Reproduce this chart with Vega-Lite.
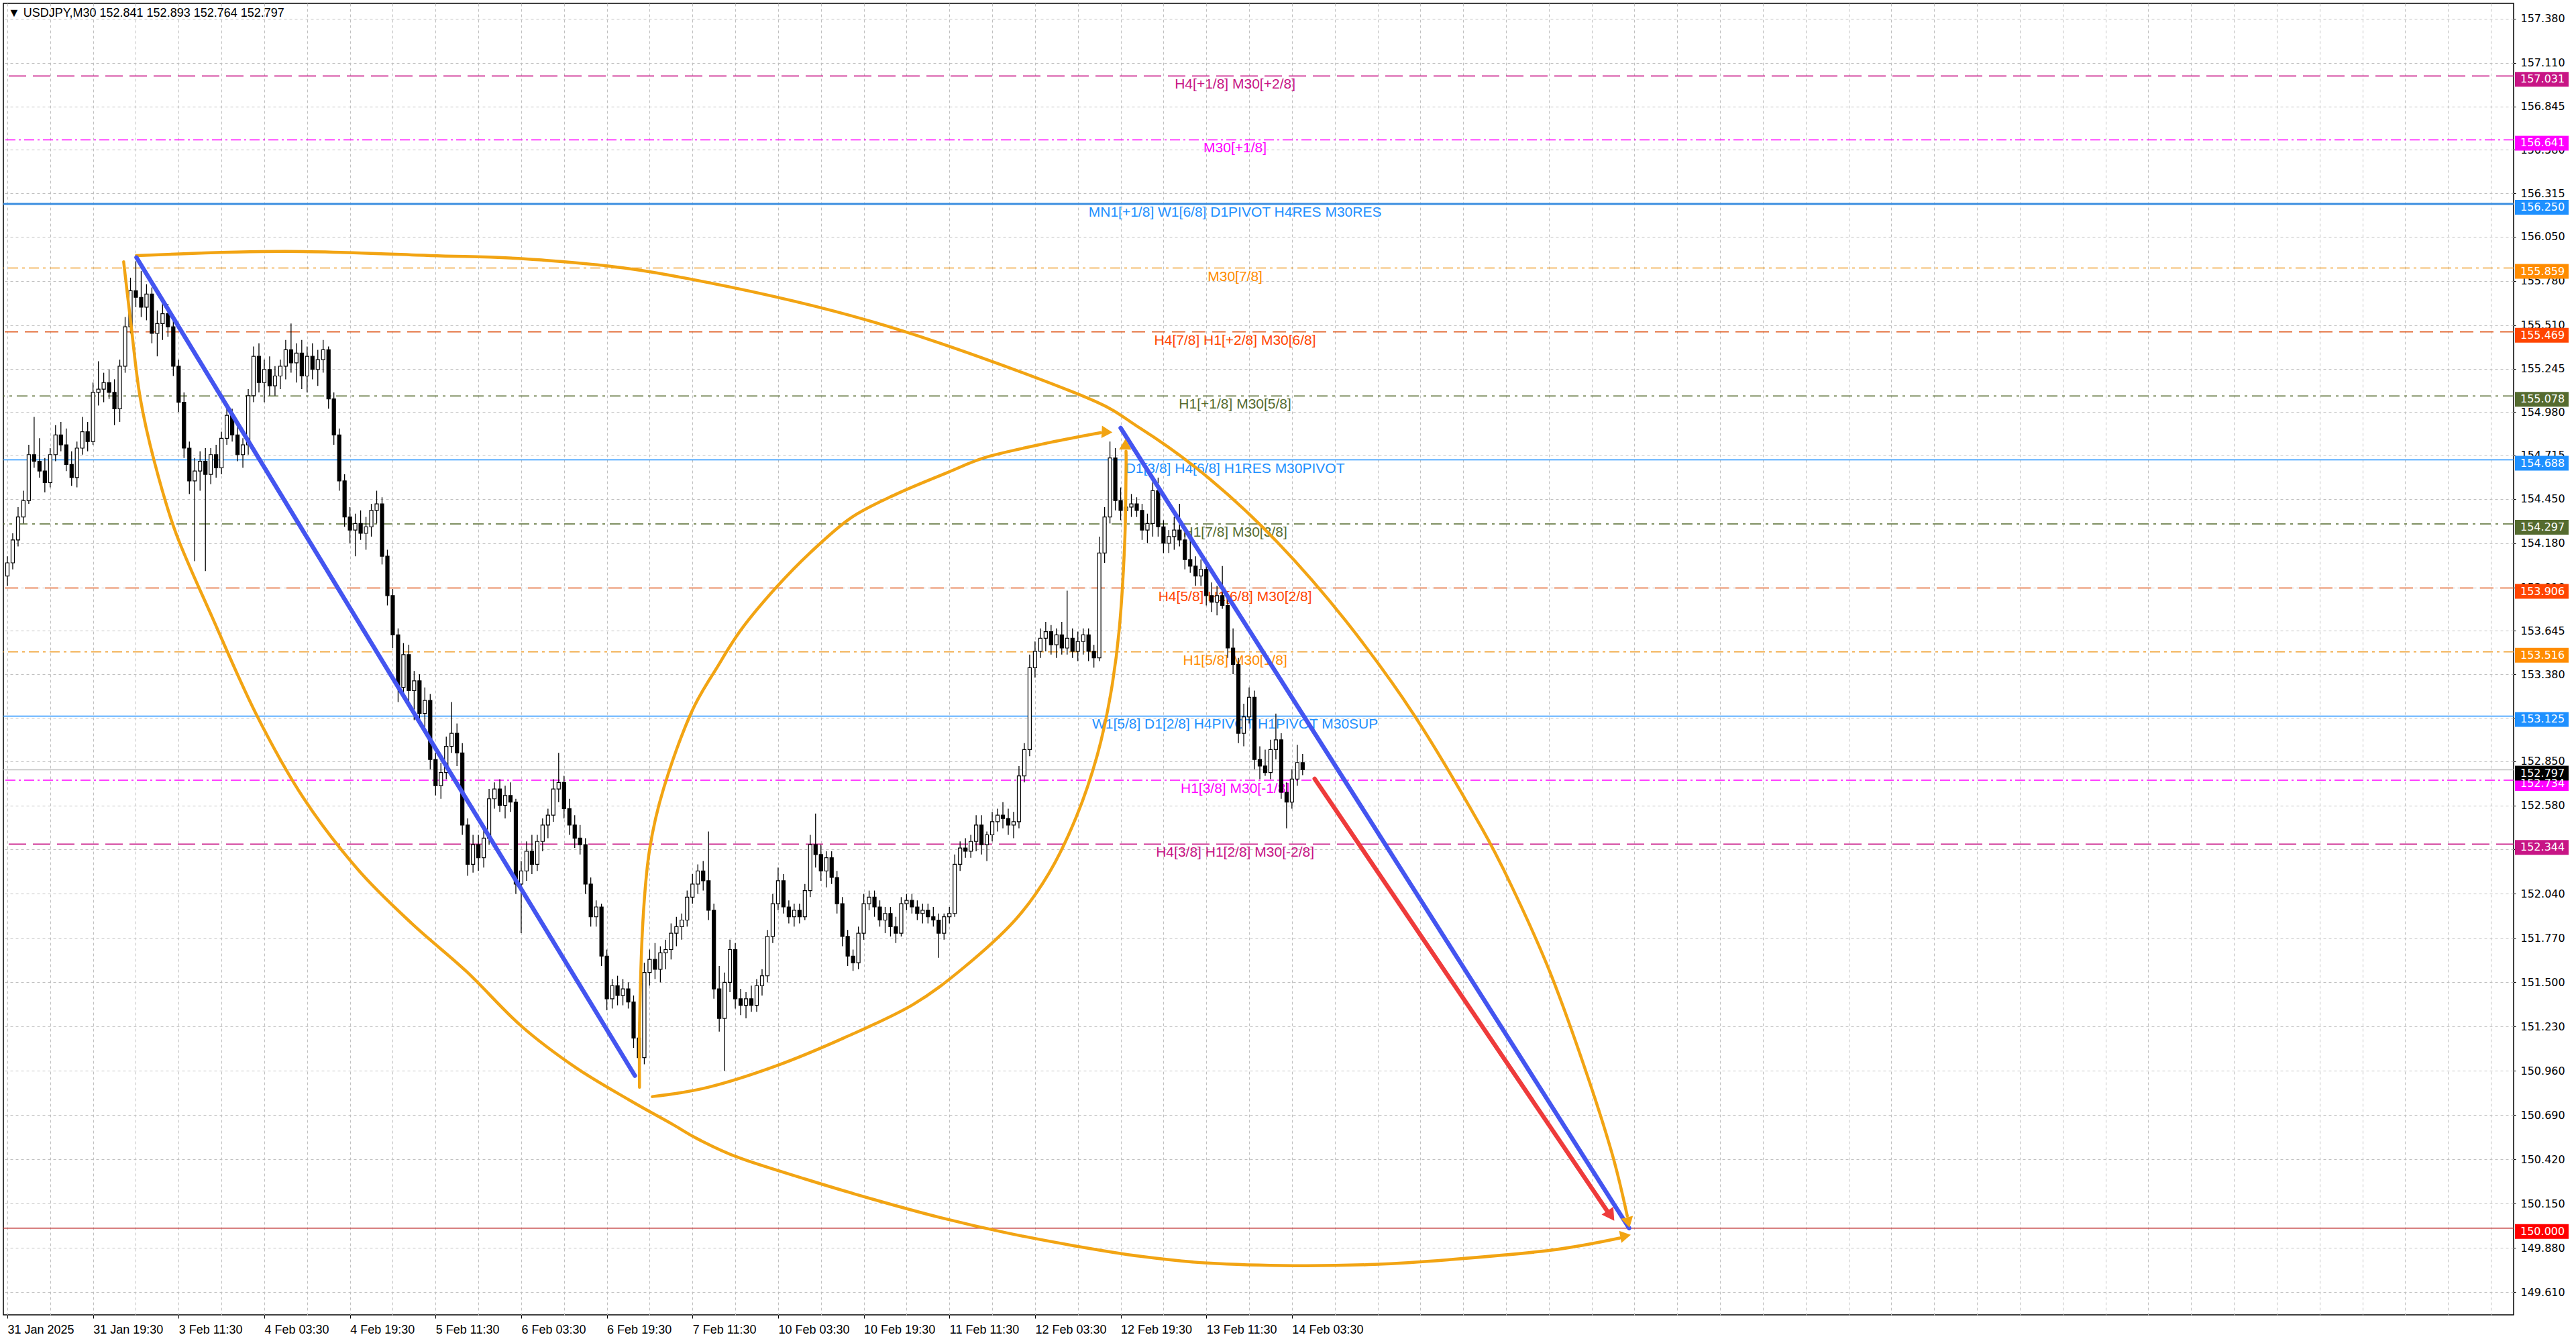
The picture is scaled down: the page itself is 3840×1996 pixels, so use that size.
{
  "$schema": "https://vega.github.io/schema/vega-lite/v6.json",
  "width": 3742,
  "height": 1955,
  "autosize": "none",
  "padding": {"left": 5, "top": 5, "right": 93, "bottom": 36},
  "background": "#ffffff",
  "title": {
    "text": "▼ USDJPY,M30  152.841 152.893 152.764 152.797",
    "anchor": "start",
    "frame": "group",
    "offset": -24,
    "dx": 7,
    "font": "Liberation Sans",
    "fontSize": 18,
    "fontWeight": "normal",
    "color": "#000000"
  },
  "config": {
    "view": {"stroke": "#000000", "strokeWidth": 1.5},
    "axisX": {
      "domain": false,
      "grid": true,
      "gridColor": "#c0c0c0",
      "gridDash": [4, 4],
      "gridWidth": 1,
      "tickSize": 5,
      "tickColor": "#000000",
      "labelFont": "Liberation Sans",
      "labelFontSize": 18,
      "labelColor": "#000000",
      "labelAlign": "left",
      "labelBaseline": "top",
      "labelPadding": 8,
      "labelOverlap": false,
      "labelFlush": false,
      "labelBound": false
    },
    "axisY": {
      "domain": false,
      "grid": true,
      "gridColor": "#c0c0c0",
      "gridDash": [4, 4],
      "gridWidth": 1,
      "tickSize": 3,
      "tickColor": "#000000",
      "labelFont": "DejaVu Sans",
      "labelFontSize": 16,
      "labelColor": "#000000",
      "labelPadding": 7,
      "labelAlign": "left",
      "labelBaseline": "middle",
      "labelOverlap": false,
      "labelFlush": false,
      "labelBound": false
    }
  },
  "datasets": {
    "levels": [
      {"p": 157.031, "kind": "pm2", "txt": "H4[+1/8] M30[+2/8]"},
      {"p": 156.641, "kind": "pm1", "txt": "M30[+1/8]"},
      {"p": 156.25, "kind": "mn", "txt": "MN1[+1/8] W1[6/8] D1PIVOT H4RES M30RES"},
      {"p": 155.859, "kind": "o71", "txt": "M30[7/8]"},
      {"p": 155.469, "kind": "o62", "txt": "H4[7/8] H1[+2/8] M30[6/8]"},
      {"p": 155.078, "kind": "o53", "txt": "H1[+1/8] M30[5/8]"},
      {"p": 154.688, "kind": "piv", "txt": "D1[3/8] H4[6/8] H1RES M30PIVOT"},
      {"p": 154.297, "kind": "o53", "txt": "H1[7/8] M30[3/8]"},
      {"p": 153.906, "kind": "o62", "txt": "H4[5/8] H1[6/8] M30[2/8]"},
      {"p": 153.516, "kind": "o71", "txt": "H1[5/8] M30[1/8]"},
      {"p": 153.125, "kind": "piv", "txt": "W1[5/8] D1[2/8] H4PIVOT H1PIVOT M30SUP"},
      {"p": 152.734, "kind": "pm1", "txt": "H1[3/8] M30[-1/8]"},
      {"p": 152.344, "kind": "pm2", "txt": "H4[3/8] H1[2/8] M30[-2/8]"},
      {"p": 150.0, "kind": "target", "txt": ""},
      {"p": 152.797, "kind": "price", "txt": ""}
    ],
    "curves": [
      {"id": "A", "i": 48.2, "p": 155.935}, {"id": "A", "i": 103.75, "p": 155.96}, {"id": "A", "i": 158, "p": 155.935},
      {"id": "A", "i": 198.6, "p": 155.909}, {"id": "A", "i": 248.5, "p": 155.812}, {"id": "A", "i": 323.5, "p": 155.53},
      {"id": "A", "i": 398.5, "p": 155.1}, {"id": "A", "i": 423.5, "p": 154.879}, {"id": "A", "i": 449, "p": 154.576},
      {"id": "A", "i": 474.5, "p": 154.187}, {"id": "A", "i": 500, "p": 153.708}, {"id": "A", "i": 525.5, "p": 153.135},
      {"id": "A", "i": 551, "p": 152.439}, {"id": "A", "i": 563.75, "p": 152.03}, {"id": "A", "i": 576.5, "p": 151.559},
      {"id": "A", "i": 589.25, "p": 150.986}, {"id": "A", "i": 599.5, "p": 150.462}, {"id": "A", "i": 605.3, "p": 150.075},
      {"id": "B", "i": 43.45, "p": 155.897}, {"id": "B", "i": 46.2, "p": 155.513}, {"id": "B", "i": 49.55, "p": 155.075},
      {"id": "B", "i": 54.98, "p": 154.674}, {"id": "B", "i": 63.1, "p": 154.236}, {"id": "B", "i": 76.65, "p": 153.724},
      {"id": "B", "i": 92.9, "p": 153.139}, {"id": "B", "i": 110.55, "p": 152.627}, {"id": "B", "i": 130.9, "p": 152.19},
      {"id": "B", "i": 151.2, "p": 151.858}, {"id": "B", "i": 171.5, "p": 151.567}, {"id": "B", "i": 191.85, "p": 151.236},
      {"id": "B", "i": 212.2, "p": 150.982}, {"id": "B", "i": 232.5, "p": 150.781}, {"id": "B", "i": 248.5, "p": 150.634},
      {"id": "B", "i": 258, "p": 150.544}, {"id": "B", "i": 273.5, "p": 150.429}, {"id": "B", "i": 298.5, "p": 150.298},
      {"id": "B", "i": 323.5, "p": 150.176}, {"id": "B", "i": 348.5, "p": 150.065}, {"id": "B", "i": 373.5, "p": 149.971},
      {"id": "B", "i": 398.5, "p": 149.893}, {"id": "B", "i": 423.5, "p": 149.828}, {"id": "B", "i": 448.5, "p": 149.787},
      {"id": "B", "i": 481, "p": 149.771}, {"id": "B", "i": 511, "p": 149.779}, {"id": "B", "i": 538.25, "p": 149.807},
      {"id": "B", "i": 576.5, "p": 149.865}, {"id": "B", "i": 602.5, "p": 149.94},
      {"id": "C", "i": 236.2, "p": 150.86}, {"id": "C", "i": 236.3, "p": 151.305}, {"id": "C", "i": 237.5, "p": 151.879},
      {"id": "C", "i": 240, "p": 152.313}, {"id": "C", "i": 245.25, "p": 152.685}, {"id": "C", "i": 255.5, "p": 153.144},
      {"id": "C", "i": 265.5, "p": 153.43}, {"id": "C", "i": 274.5, "p": 153.659}, {"id": "C", "i": 287.25, "p": 153.909},
      {"id": "C", "i": 300, "p": 154.122}, {"id": "C", "i": 315.25, "p": 154.335}, {"id": "C", "i": 332, "p": 154.478},
      {"id": "C", "i": 351, "p": 154.609}, {"id": "C", "i": 366.25, "p": 154.707}, {"id": "C", "i": 389.25, "p": 154.793},
      {"id": "C", "i": 408.5, "p": 154.854},
      {"id": "D", "i": 241, "p": 150.803}, {"id": "D", "i": 261.75, "p": 150.859}, {"id": "D", "i": 287.25, "p": 150.99},
      {"id": "D", "i": 312.75, "p": 151.162}, {"id": "D", "i": 338.25, "p": 151.363}, {"id": "D", "i": 357.5, "p": 151.592},
      {"id": "D", "i": 376.5, "p": 151.879}, {"id": "D", "i": 389.25, "p": 152.167}, {"id": "D", "i": 399.5, "p": 152.513},
      {"id": "D", "i": 407.25, "p": 152.886}, {"id": "D", "i": 412.25, "p": 153.258}, {"id": "D", "i": 415.5, "p": 153.659},
      {"id": "D", "i": 417.5, "p": 154.179}, {"id": "D", "i": 418, "p": 154.609}, {"id": "D", "i": 418, "p": 154.74}
    ],
    "trend": [
      {"id": "blue1", "i": 48.25, "p": 155.923}, {"id": "blue1", "i": 234.5, "p": 150.93},
      {"id": "blue2", "i": 416, "p": 154.883}, {"id": "blue2", "i": 606, "p": 150.0},
      {"id": "red", "i": 488.5, "p": 152.742}, {"id": "red", "i": 598, "p": 150.1}
    ],
    "heads": [
      {"id": "A", "i": 605.5, "p": 150.045},
      {"id": "B", "i": 604, "p": 149.951},
      {"id": "C", "i": 410.25, "p": 154.858},
      {"id": "D", "i": 417.75, "p": 154.773},
      {"id": "red", "i": 598.75, "p": 150.086}
    ],
    "bars": [
      {"i":0,"o":153.98,"h":154.1,"l":153.92,"c":154.06},
      {"i":2,"o":154.06,"h":154.24,"l":154.02,"c":154.2},
      {"i":4,"o":154.2,"h":154.4,"l":154.16,"c":154.34},
      {"i":6,"o":154.34,"h":154.5,"l":154.3,"c":154.44},
      {"i":8,"o":154.44,"h":154.78,"l":154.42,"c":154.72},
      {"i":10,"o":154.72,"h":154.95,"l":154.64,"c":154.68},
      {"i":12,"o":154.68,"h":154.82,"l":154.58,"c":154.62},
      {"i":14,"o":154.62,"h":154.7,"l":154.49,"c":154.55},
      {"i":16,"o":154.55,"h":154.76,"l":154.52,"c":154.72},
      {"i":18,"o":154.72,"h":154.9,"l":154.68,"c":154.84},
      {"i":20,"o":154.84,"h":154.92,"l":154.74,"c":154.78},
      {"i":22,"o":154.78,"h":154.88,"l":154.62,"c":154.66},
      {"i":24,"o":154.66,"h":154.74,"l":154.53,"c":154.58},
      {"i":26,"o":154.58,"h":154.8,"l":154.52,"c":154.76},
      {"i":28,"o":154.76,"h":154.95,"l":154.72,"c":154.86},
      {"i":30,"o":154.86,"h":154.92,"l":154.74,"c":154.8},
      {"i":32,"o":154.8,"h":155.16,"l":154.78,"c":155.1},
      {"i":34,"o":155.1,"h":155.29,"l":155.02,"c":155.12},
      {"i":36,"o":155.12,"h":155.22,"l":155.04,"c":155.16},
      {"i":38,"o":155.16,"h":155.24,"l":155.06,"c":155.1},
      {"i":40,"o":155.1,"h":155.18,"l":154.9,"c":155.0},
      {"i":42,"o":155.0,"h":155.3,"l":154.92,"c":155.26},
      {"i":44,"o":155.26,"h":155.56,"l":155.22,"c":155.5},
      {"i":46,"o":155.5,"h":155.8,"l":155.46,"c":155.72},
      {"i":48,"o":155.72,"h":155.9,"l":155.62,"c":155.68},
      {"i":50,"o":155.68,"h":155.84,"l":155.56,"c":155.62},
      {"i":52,"o":155.62,"h":155.76,"l":155.54,"c":155.7},
      {"i":54,"o":155.7,"h":155.74,"l":155.4,"c":155.46},
      {"i":56,"o":155.46,"h":155.6,"l":155.32,"c":155.52},
      {"i":58,"o":155.52,"h":155.66,"l":155.42,"c":155.58},
      {"i":60,"o":155.58,"h":155.64,"l":155.44,"c":155.5},
      {"i":62,"o":155.5,"h":155.56,"l":155.2,"c":155.26},
      {"i":64,"o":155.26,"h":155.3,"l":154.98,"c":155.04},
      {"i":66,"o":155.04,"h":155.1,"l":154.7,"c":154.76},
      {"i":68,"o":154.76,"h":154.8,"l":154.48,"c":154.56},
      {"i":70,"o":154.56,"h":154.7,"l":154.07,"c":154.62},
      {"i":72,"o":154.62,"h":154.74,"l":154.5,"c":154.68},
      {"i":74,"o":154.68,"h":154.76,"l":154.01,"c":154.6},
      {"i":76,"o":154.6,"h":154.76,"l":154.54,"c":154.72},
      {"i":78,"o":154.72,"h":154.78,"l":154.58,"c":154.64},
      {"i":80,"o":154.64,"h":154.86,"l":154.6,"c":154.82},
      {"i":82,"o":154.82,"h":155.02,"l":154.78,"c":154.96},
      {"i":84,"o":154.96,"h":155.0,"l":154.8,"c":154.84},
      {"i":86,"o":154.84,"h":154.9,"l":154.68,"c":154.72},
      {"i":88,"o":154.72,"h":154.82,"l":154.64,"c":154.78},
      {"i":90,"o":154.78,"h":155.12,"l":154.72,"c":155.08},
      {"i":92,"o":155.08,"h":155.38,"l":155.04,"c":155.32},
      {"i":94,"o":155.32,"h":155.4,"l":155.1,"c":155.16},
      {"i":96,"o":155.16,"h":155.3,"l":155.04,"c":155.24},
      {"i":98,"o":155.24,"h":155.32,"l":155.08,"c":155.14},
      {"i":100,"o":155.14,"h":155.26,"l":155.08,"c":155.2},
      {"i":102,"o":155.2,"h":155.3,"l":155.12,"c":155.26},
      {"i":104,"o":155.26,"h":155.42,"l":155.18,"c":155.36},
      {"i":106,"o":155.36,"h":155.52,"l":155.22,"c":155.28},
      {"i":108,"o":155.28,"h":155.4,"l":155.16,"c":155.34},
      {"i":110,"o":155.34,"h":155.42,"l":155.12,"c":155.2},
      {"i":112,"o":155.2,"h":155.38,"l":155.1,"c":155.32},
      {"i":114,"o":155.32,"h":155.4,"l":155.18,"c":155.24},
      {"i":116,"o":155.24,"h":155.36,"l":155.14,"c":155.3},
      {"i":118,"o":155.3,"h":155.42,"l":155.22,"c":155.36},
      {"i":120,"o":155.36,"h":155.38,"l":155.0,"c":155.06},
      {"i":122,"o":155.06,"h":155.1,"l":154.78,"c":154.84},
      {"i":124,"o":154.84,"h":154.88,"l":154.5,"c":154.56},
      {"i":126,"o":154.56,"h":154.6,"l":154.28,"c":154.34},
      {"i":128,"o":154.34,"h":154.4,"l":154.18,"c":154.26},
      {"i":130,"o":154.26,"h":154.36,"l":154.1,"c":154.3},
      {"i":132,"o":154.3,"h":154.38,"l":154.2,"c":154.24},
      {"i":134,"o":154.24,"h":154.34,"l":154.14,"c":154.28},
      {"i":136,"o":154.28,"h":154.42,"l":154.22,"c":154.38},
      {"i":138,"o":154.38,"h":154.5,"l":154.3,"c":154.42},
      {"i":140,"o":154.42,"h":154.46,"l":154.05,"c":154.1},
      {"i":142,"o":154.1,"h":154.14,"l":153.8,"c":153.86},
      {"i":144,"o":153.86,"h":153.9,"l":153.54,"c":153.62},
      {"i":146,"o":153.62,"h":153.66,"l":153.21,"c":153.3},
      {"i":148,"o":153.3,"h":153.57,"l":153.26,"c":153.5},
      {"i":150,"o":153.5,"h":153.56,"l":153.2,"c":153.28},
      {"i":152,"o":153.28,"h":153.4,"l":153.1,"c":153.34},
      {"i":154,"o":153.34,"h":153.38,"l":153.08,"c":153.14},
      {"i":156,"o":153.14,"h":153.3,"l":153.06,"c":153.22},
      {"i":158,"o":153.22,"h":153.26,"l":152.8,"c":152.86},
      {"i":160,"o":152.86,"h":152.9,"l":152.64,"c":152.7},
      {"i":162,"o":152.7,"h":152.84,"l":152.62,"c":152.78},
      {"i":164,"o":152.78,"h":153.0,"l":152.74,"c":152.94},
      {"i":166,"o":152.94,"h":153.21,"l":152.9,"c":153.02},
      {"i":168,"o":153.02,"h":153.08,"l":152.82,"c":152.9},
      {"i":170,"o":152.9,"h":152.96,"l":152.4,"c":152.46},
      {"i":172,"o":152.46,"h":152.5,"l":152.15,"c":152.22},
      {"i":174,"o":152.22,"h":152.4,"l":152.17,"c":152.34},
      {"i":176,"o":152.34,"h":152.4,"l":152.18,"c":152.26},
      {"i":178,"o":152.26,"h":152.44,"l":152.2,"c":152.38},
      {"i":180,"o":152.38,"h":152.68,"l":152.34,"c":152.62},
      {"i":182,"o":152.62,"h":152.72,"l":152.56,"c":152.68},
      {"i":184,"o":152.68,"h":152.74,"l":152.54,"c":152.58},
      {"i":186,"o":152.58,"h":152.7,"l":152.5,"c":152.64},
      {"i":188,"o":152.64,"h":152.72,"l":152.54,"c":152.6},
      {"i":190,"o":152.6,"h":152.62,"l":152.04,"c":152.1},
      {"i":192,"o":152.1,"h":152.24,"l":151.8,"c":152.18},
      {"i":194,"o":152.18,"h":152.36,"l":152.12,"c":152.3},
      {"i":196,"o":152.3,"h":152.4,"l":152.16,"c":152.22},
      {"i":198,"o":152.22,"h":152.4,"l":152.18,"c":152.36},
      {"i":200,"o":152.36,"h":152.5,"l":152.3,"c":152.46},
      {"i":202,"o":152.46,"h":152.56,"l":152.38,"c":152.52},
      {"i":204,"o":152.52,"h":152.74,"l":152.48,"c":152.68},
      {"i":206,"o":152.68,"h":152.9,"l":152.6,"c":152.72},
      {"i":208,"o":152.72,"h":152.76,"l":152.5,"c":152.56},
      {"i":210,"o":152.56,"h":152.62,"l":152.4,"c":152.46},
      {"i":212,"o":152.46,"h":152.52,"l":152.32,"c":152.38},
      {"i":214,"o":152.38,"h":152.46,"l":152.28,"c":152.34},
      {"i":216,"o":152.34,"h":152.38,"l":152.04,"c":152.1},
      {"i":218,"o":152.1,"h":152.14,"l":151.84,"c":151.9},
      {"i":220,"o":151.9,"h":152.0,"l":151.84,"c":151.96},
      {"i":222,"o":151.96,"h":151.98,"l":151.6,"c":151.66},
      {"i":224,"o":151.66,"h":151.7,"l":151.33,"c":151.4},
      {"i":226,"o":151.4,"h":151.52,"l":151.34,"c":151.48},
      {"i":228,"o":151.48,"h":151.54,"l":151.36,"c":151.42},
      {"i":230,"o":151.42,"h":151.52,"l":151.36,"c":151.46},
      {"i":232,"o":151.46,"h":151.5,"l":151.34,"c":151.38},
      {"i":234,"o":151.38,"h":151.42,"l":151.1,"c":151.16},
      {"i":236,"o":151.16,"h":151.26,"l":150.93,"c":151.04},
      {"i":238,"o":151.04,"h":151.62,"l":151.0,"c":151.56},
      {"i":240,"o":151.56,"h":151.7,"l":151.48,"c":151.64},
      {"i":242,"o":151.64,"h":151.74,"l":151.52,"c":151.58},
      {"i":244,"o":151.58,"h":151.72,"l":151.5,"c":151.68},
      {"i":246,"o":151.68,"h":151.76,"l":151.58,"c":151.7},
      {"i":248,"o":151.7,"h":151.86,"l":151.64,"c":151.8},
      {"i":250,"o":151.8,"h":151.9,"l":151.72,"c":151.84},
      {"i":252,"o":151.84,"h":151.92,"l":151.76,"c":151.88},
      {"i":254,"o":151.88,"h":152.06,"l":151.84,"c":152.02},
      {"i":256,"o":152.02,"h":152.16,"l":151.98,"c":152.1},
      {"i":258,"o":152.1,"h":152.22,"l":152.04,"c":152.18},
      {"i":260,"o":152.18,"h":152.24,"l":152.06,"c":152.12},
      {"i":262,"o":152.12,"h":152.42,"l":151.88,"c":151.94},
      {"i":264,"o":151.94,"h":151.98,"l":151.4,"c":151.46},
      {"i":266,"o":151.46,"h":151.6,"l":151.2,"c":151.28},
      {"i":268,"o":151.28,"h":151.56,"l":150.96,"c":151.5},
      {"i":270,"o":151.5,"h":151.76,"l":151.44,"c":151.7},
      {"i":272,"o":151.7,"h":151.74,"l":151.34,"c":151.4},
      {"i":274,"o":151.4,"h":151.46,"l":151.3,"c":151.36},
      {"i":276,"o":151.36,"h":151.44,"l":151.28,"c":151.4},
      {"i":278,"o":151.4,"h":151.48,"l":151.32,"c":151.36},
      {"i":280,"o":151.36,"h":151.52,"l":151.32,"c":151.48},
      {"i":282,"o":151.48,"h":151.58,"l":151.42,"c":151.54},
      {"i":284,"o":151.54,"h":151.82,"l":151.5,"c":151.78},
      {"i":286,"o":151.78,"h":152.04,"l":151.74,"c":151.98},
      {"i":288,"o":151.98,"h":152.2,"l":151.94,"c":152.12},
      {"i":290,"o":152.12,"h":152.16,"l":151.92,"c":151.96},
      {"i":292,"o":151.96,"h":152.0,"l":151.86,"c":151.9},
      {"i":294,"o":151.9,"h":151.98,"l":151.84,"c":151.94},
      {"i":296,"o":151.94,"h":151.98,"l":151.86,"c":151.9},
      {"i":298,"o":151.9,"h":152.1,"l":151.88,"c":152.06},
      {"i":300,"o":152.06,"h":152.4,"l":152.02,"c":152.34},
      {"i":302,"o":152.34,"h":152.53,"l":152.2,"c":152.28},
      {"i":304,"o":152.28,"h":152.34,"l":152.12,"c":152.18},
      {"i":306,"o":152.18,"h":152.3,"l":152.08,"c":152.26},
      {"i":308,"o":152.26,"h":152.3,"l":152.1,"c":152.14},
      {"i":310,"o":152.14,"h":152.18,"l":151.92,"c":151.98},
      {"i":312,"o":151.98,"h":152.02,"l":151.72,"c":151.78},
      {"i":314,"o":151.78,"h":151.82,"l":151.6,"c":151.66},
      {"i":316,"o":151.66,"h":151.7,"l":151.57,"c":151.62},
      {"i":318,"o":151.62,"h":151.84,"l":151.58,"c":151.8},
      {"i":320,"o":151.8,"h":152.04,"l":151.76,"c":151.98},
      {"i":322,"o":151.98,"h":152.06,"l":151.94,"c":152.02},
      {"i":324,"o":152.02,"h":152.06,"l":151.9,"c":151.96},
      {"i":326,"o":151.96,"h":152.0,"l":151.84,"c":151.88},
      {"i":328,"o":151.88,"h":151.96,"l":151.8,"c":151.92},
      {"i":330,"o":151.92,"h":151.96,"l":151.78,"c":151.84},
      {"i":332,"o":151.84,"h":151.9,"l":151.74,"c":151.8},
      {"i":334,"o":151.8,"h":152.02,"l":151.78,"c":151.98},
      {"i":336,"o":151.98,"h":152.04,"l":151.94,"c":152.0},
      {"i":338,"o":152.0,"h":152.04,"l":151.92,"c":151.96},
      {"i":340,"o":151.96,"h":152.0,"l":151.88,"c":151.92},
      {"i":342,"o":151.92,"h":151.98,"l":151.86,"c":151.94},
      {"i":344,"o":151.94,"h":151.98,"l":151.86,"c":151.9},
      {"i":346,"o":151.9,"h":151.96,"l":151.84,"c":151.88},
      {"i":348,"o":151.88,"h":151.92,"l":151.65,"c":151.8},
      {"i":350,"o":151.8,"h":151.92,"l":151.76,"c":151.9},
      {"i":352,"o":151.9,"h":151.96,"l":151.86,"c":151.92},
      {"i":354,"o":151.92,"h":152.28,"l":151.9,"c":152.22},
      {"i":356,"o":152.22,"h":152.36,"l":152.18,"c":152.32},
      {"i":358,"o":152.32,"h":152.38,"l":152.26,"c":152.3},
      {"i":360,"o":152.3,"h":152.4,"l":152.26,"c":152.36},
      {"i":362,"o":152.36,"h":152.52,"l":152.3,"c":152.46},
      {"i":364,"o":152.46,"h":152.52,"l":152.28,"c":152.34},
      {"i":366,"o":152.34,"h":152.42,"l":152.24,"c":152.4},
      {"i":368,"o":152.4,"h":152.54,"l":152.36,"c":152.48},
      {"i":370,"o":152.48,"h":152.56,"l":152.42,"c":152.52},
      {"i":372,"o":152.52,"h":152.6,"l":152.44,"c":152.5},
      {"i":374,"o":152.5,"h":152.56,"l":152.4,"c":152.46},
      {"i":376,"o":152.46,"h":152.54,"l":152.38,"c":152.48},
      {"i":378,"o":152.48,"h":152.82,"l":152.44,"c":152.76},
      {"i":380,"o":152.76,"h":152.96,"l":152.72,"c":152.92},
      {"i":382,"o":152.92,"h":153.5,"l":152.88,"c":153.42},
      {"i":384,"o":153.42,"h":153.58,"l":153.36,"c":153.52},
      {"i":386,"o":153.52,"h":153.66,"l":153.48,"c":153.6},
      {"i":388,"o":153.6,"h":153.7,"l":153.52,"c":153.64},
      {"i":390,"o":153.64,"h":153.68,"l":153.5,"c":153.56},
      {"i":392,"o":153.56,"h":153.66,"l":153.48,"c":153.62},
      {"i":394,"o":153.62,"h":153.7,"l":153.5,"c":153.54},
      {"i":396,"o":153.54,"h":153.89,"l":153.5,"c":153.6},
      {"i":398,"o":153.6,"h":153.66,"l":153.48,"c":153.52},
      {"i":400,"o":153.52,"h":153.64,"l":153.46,"c":153.58},
      {"i":402,"o":153.58,"h":153.66,"l":153.5,"c":153.62},
      {"i":404,"o":153.62,"h":153.66,"l":153.46,"c":153.52},
      {"i":406,"o":153.52,"h":153.56,"l":153.42,"c":153.48},
      {"i":408,"o":153.48,"h":154.22,"l":153.46,"c":154.12},
      {"i":410,"o":154.12,"h":154.4,"l":154.06,"c":154.34},
      {"i":412,"o":154.34,"h":154.8,"l":154.3,"c":154.7},
      {"i":414,"o":154.7,"h":154.76,"l":154.38,"c":154.44},
      {"i":416,"o":154.44,"h":154.52,"l":154.32,"c":154.38},
      {"i":418,"o":154.38,"h":154.46,"l":154.3,"c":154.4},
      {"i":420,"o":154.4,"h":154.48,"l":154.34,"c":154.42},
      {"i":422,"o":154.42,"h":154.46,"l":154.34,"c":154.38},
      {"i":424,"o":154.38,"h":154.42,"l":154.2,"c":154.26},
      {"i":426,"o":154.26,"h":154.36,"l":154.18,"c":154.3},
      {"i":428,"o":154.3,"h":154.56,"l":154.22,"c":154.5},
      {"i":430,"o":154.5,"h":154.58,"l":154.22,"c":154.28},
      {"i":432,"o":154.28,"h":154.32,"l":154.12,"c":154.18},
      {"i":434,"o":154.18,"h":154.26,"l":154.12,"c":154.22},
      {"i":436,"o":154.22,"h":154.34,"l":154.14,"c":154.26},
      {"i":438,"o":154.26,"h":154.42,"l":154.16,"c":154.2},
      {"i":440,"o":154.2,"h":154.24,"l":154.02,"c":154.08},
      {"i":442,"o":154.08,"h":154.2,"l":154.0,"c":154.04},
      {"i":444,"o":154.04,"h":154.1,"l":153.92,"c":153.98},
      {"i":446,"o":153.98,"h":154.08,"l":153.92,"c":154.02},
      {"i":448,"o":154.02,"h":154.06,"l":153.8,"c":153.86},
      {"i":450,"o":153.86,"h":153.94,"l":153.76,"c":153.82},
      {"i":452,"o":153.82,"h":153.92,"l":153.74,"c":153.86},
      {"i":454,"o":153.86,"h":154.04,"l":153.78,"c":153.8},
      {"i":456,"o":153.8,"h":153.84,"l":153.48,"c":153.54},
      {"i":458,"o":153.54,"h":153.66,"l":153.38,"c":153.44},
      {"i":460,"o":153.44,"h":153.48,"l":152.96,"c":153.02},
      {"i":462,"o":153.02,"h":153.2,"l":152.94,"c":153.12},
      {"i":464,"o":153.12,"h":153.3,"l":153.08,"c":153.24},
      {"i":466,"o":153.24,"h":153.28,"l":152.8,"c":152.86},
      {"i":468,"o":152.86,"h":152.94,"l":152.74,"c":152.82},
      {"i":470,"o":152.82,"h":152.92,"l":152.76,"c":152.78},
      {"i":472,"o":152.78,"h":152.98,"l":152.74,"c":152.92},
      {"i":474,"o":152.92,"h":153.14,"l":152.86,"c":152.98},
      {"i":476,"o":152.98,"h":153.02,"l":152.62,"c":152.66},
      {"i":478,"o":152.66,"h":152.72,"l":152.44,"c":152.6},
      {"i":480,"o":152.6,"h":152.8,"l":152.56,"c":152.74},
      {"i":482,"o":152.74,"h":152.95,"l":152.7,"c":152.841},
      {"i":484,"o":152.841,"h":152.893,"l":152.764,"c":152.797}
    ]
  },
  "layer": [
    {
      "data": {"name": "levels"},
      "mark": {"type": "rule", "strokeWidth": 1.5},
      "encoding": {
        "y": {
          "field": "p",
          "type": "quantitative",
          "scale": {"domain": [149.471, 157.474], "nice": false, "zero": false},
          "axis": {
            "orient": "right",
            "title": null,
            "values": [157.38, 157.11, 156.845, 156.58, 156.315, 156.05, 155.78, 155.51, 155.245, 154.98, 154.715, 154.45, 154.18, 153.91, 153.645, 153.38, 153.115, 152.85, 152.58, 152.31, 152.04, 151.77, 151.5, 151.23, 150.96, 150.69, 150.42, 150.15, 149.88, 149.61],
            "format": ".3f"
          }
        },
        "stroke": {
          "field": "kind",
          "type": "nominal",
          "scale": {
            "domain": ["pm2", "pm1", "mn", "piv", "o71", "o62", "o53", "price", "target"],
            "range": ["#c71585", "#ff00ff", "#1e90ff", "#1e90ff", "#f0a030", "#e0581c", "#556b2f", "#c0c0c0", "#c03030"]
          },
          "legend": null
        },
        "strokeDash": {
          "field": "kind",
          "type": "nominal",
          "scale": {
            "domain": ["pm2", "pm1", "mn", "piv", "o71", "o62", "o53", "price", "target"],
            "range": [[26, 10], [15, 5, 3, 5], [1, 0], [1, 0], [15, 6, 4, 6], [20, 10], [16, 7, 4, 7], [1, 0], [1, 0]]
          },
          "legend": null
        }
      }
    },
    {
      "data": {"name": "levels"},
      "transform": [{"filter": "datum.kind == 'mn'"}],
      "mark": {"type": "rule", "strokeWidth": 3, "color": "#3b8ee0"},
      "encoding": {
        "y": {"field": "p", "type": "quantitative", "axis": {"orient": "right", "title": null}}
      }
    },
    {
      "data": {"name": "levels"},
      "transform": [{"filter": "datum.txt != ''"}],
      "mark": {"type": "text", "font": "Liberation Sans", "fontSize": 21, "align": "center", "baseline": "alphabetic", "dy": 19},
      "encoding": {
        "x": {"datum": 458.75, "type": "quantitative", "axis": {"title": null}},
        "y": {"field": "p", "type": "quantitative", "axis": {"orient": "right", "title": null}},
        "text": {"field": "txt"},
        "fill": {
          "field": "kind",
          "type": "nominal",
          "scale": {
            "domain": ["pm2", "pm1", "mn", "piv", "o71", "o62", "o53", "price", "target"],
            "range": ["#c71585", "#ff00ff", "#1e90ff", "#1e90ff", "#ff8c00", "#ff4500", "#556b2f", "#000000", "#ff0000"]
          },
          "legend": null
        }
      }
    },
    {
      "data": {"name": "bars"},
      "mark": {"type": "rule", "color": "#000000", "strokeWidth": 1.3},
      "encoding": {
        "x": {
          "field": "i",
          "type": "quantitative",
          "scale": {"domain": [-0.25, 935.25], "nice": false, "zero": false},
          "axis": {
            "title": null,
            "values": [0, 16, 32, 48, 64, 80, 96, 112, 128, 144, 160, 176, 192, 208, 224, 240, 256, 272, 288, 304, 320, 336, 352, 368, 384, 400, 416, 432, 448, 464, 480, 496, 512, 528, 544, 560, 576, 592, 608, 624, 640, 656, 672, 688, 704, 720, 736, 752, 768, 784, 800, 816, 832, 848, 864, 880, 896, 912, 928],
            "labelExpr": "datum.value % 32 == 0 && datum.value <= 480 ? ['31 Jan 2025','31 Jan 19:30','3 Feb 11:30','4 Feb 03:30','4 Feb 19:30','5 Feb 11:30','6 Feb 03:30','6 Feb 19:30','7 Feb 11:30','10 Feb 03:30','10 Feb 19:30','11 Feb 11:30','12 Feb 03:30','12 Feb 19:30','13 Feb 11:30','14 Feb 03:30'][datum.value / 32] : ''",
            "tickOpacity": {"condition": {"test": "datum.value % 32 == 0 && datum.value <= 480", "value": 1}, "value": 0}
          }
        },
        "y": {"field": "l", "type": "quantitative", "axis": {"orient": "right", "title": null}},
        "y2": {"field": "h"}
      }
    },
    {
      "data": {"name": "bars"},
      "mark": {"type": "bar", "width": 5, "stroke": "#000000", "strokeWidth": 1.2},
      "encoding": {
        "x": {"field": "i", "type": "quantitative", "axis": {"title": null}},
        "y": {"field": "o", "type": "quantitative", "axis": {"orient": "right", "title": null}},
        "y2": {"field": "c"},
        "fill": {"condition": {"test": "datum.c >= datum.o", "value": "#ffffff"}, "value": "#000000"}
      }
    },
    {
      "data": {"name": "curves"},
      "mark": {"type": "line", "interpolate": "cardinal", "strokeWidth": 4.5, "strokeCap": "round"},
      "encoding": {
        "x": {"field": "i", "type": "quantitative", "axis": {"title": null}},
        "y": {"field": "p", "type": "quantitative", "axis": {"orient": "right", "title": null}},
        "order": {"value": null},
        "color": {
          "field": "id",
          "type": "nominal",
          "scale": {
            "domain": ["A", "B", "C", "D", "blue1", "blue2", "red"],
            "range": ["#f2a413", "#f2a413", "#f2a413", "#f2a413", "#4455f0", "#4455f0", "#ee3b3b"]
          },
          "legend": null
        }
      }
    },
    {
      "data": {"name": "trend"},
      "mark": {"type": "line", "strokeWidth": 6.5, "strokeCap": "round"},
      "encoding": {
        "x": {"field": "i", "type": "quantitative", "axis": {"title": null}},
        "y": {"field": "p", "type": "quantitative", "axis": {"orient": "right", "title": null}},
        "color": {"field": "id", "type": "nominal", "legend": null}
      }
    },
    {
      "data": {"name": "heads"},
      "transform": [{"filter": "datum.id == 'A'"}],
      "mark": {"type": "point", "shape": "triangle", "filled": true, "opacity": 1, "size": 340, "angle": 166},
      "encoding": {
        "x": {"field": "i", "type": "quantitative", "axis": {"title": null}},
        "y": {"field": "p", "type": "quantitative", "axis": {"orient": "right", "title": null}},
        "color": {"field": "id", "type": "nominal", "legend": null}
      }
    },
    {
      "data": {"name": "heads"},
      "transform": [{"filter": "datum.id == 'B'"}],
      "mark": {"type": "point", "shape": "triangle", "filled": true, "opacity": 1, "size": 340, "angle": 79},
      "encoding": {
        "x": {"field": "i", "type": "quantitative", "axis": {"title": null}},
        "y": {"field": "p", "type": "quantitative", "axis": {"orient": "right", "title": null}},
        "color": {"field": "id", "type": "nominal", "legend": null}
      }
    },
    {
      "data": {"name": "heads"},
      "transform": [{"filter": "datum.id == 'C'"}],
      "mark": {"type": "point", "shape": "triangle", "filled": true, "opacity": 1, "size": 340, "angle": 93},
      "encoding": {
        "x": {"field": "i", "type": "quantitative", "axis": {"title": null}},
        "y": {"field": "p", "type": "quantitative", "axis": {"orient": "right", "title": null}},
        "color": {"field": "id", "type": "nominal", "legend": null}
      }
    },
    {
      "data": {"name": "heads"},
      "transform": [{"filter": "datum.id == 'D'"}],
      "mark": {"type": "point", "shape": "triangle", "filled": true, "opacity": 1, "size": 340, "angle": 1},
      "encoding": {
        "x": {"field": "i", "type": "quantitative", "axis": {"title": null}},
        "y": {"field": "p", "type": "quantitative", "axis": {"orient": "right", "title": null}},
        "color": {"field": "id", "type": "nominal", "legend": null}
      }
    },
    {
      "data": {"name": "heads"},
      "transform": [{"filter": "datum.id == 'red'"}],
      "mark": {"type": "point", "shape": "triangle", "filled": true, "opacity": 1, "size": 440, "angle": 146},
      "encoding": {
        "x": {"field": "i", "type": "quantitative", "axis": {"title": null}},
        "y": {"field": "p", "type": "quantitative", "axis": {"orient": "right", "title": null}},
        "color": {"field": "id", "type": "nominal", "legend": null}
      }
    },
    {
      "data": {"name": "levels"},
      "mark": {"type": "rect", "x": {"expr": "width + 2"}, "x2": {"expr": "width + 82"}, "yOffset": -6, "y2Offset": 16},
      "encoding": {
        "y": {"field": "p", "type": "quantitative", "axis": {"orient": "right", "title": null}},
        "y2": {"field": "p"},
        "fill": {"field": "kind", "type": "nominal", "legend": null}
      }
    },
    {
      "data": {"name": "levels"},
      "mark": {"type": "text", "x": {"expr": "width + 10"}, "align": "left", "baseline": "middle", "dy": 5, "font": "DejaVu Sans", "fontSize": 16, "fill": "#ffffff"},
      "encoding": {
        "y": {"field": "p", "type": "quantitative", "axis": {"orient": "right", "title": null}},
        "text": {"field": "p", "type": "quantitative", "format": ".3f"}
      }
    }
  ]
}
